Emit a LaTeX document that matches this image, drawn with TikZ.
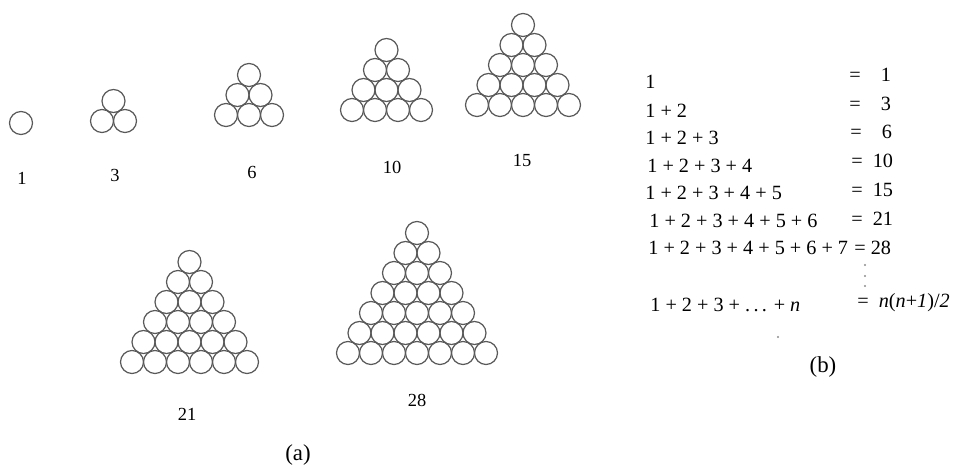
\documentclass[tikz,border=0pt]{standalone}
\usepackage{fontspec}
\setmainfont{Liberation Serif}
\usetikzlibrary{positioning}

% balls stacked in a triangle: x, y of the lower left ball, balls in the bottom row
\newcommand{\stackballs}[3]{%
  \foreach \r in {1,...,#3}{
    \foreach \k in {\r,...,#3}{
      \draw[ball] ({#1+(\r-1)*11.5+(\k-\r)*23},{#2-(\r-1)*20}) circle (0.23cm);
    }}}

\tikzset{
  ball/.style={draw=black!65,line width=0.7pt},
  count/.style={font=\fontsize{10.5}{12}\selectfont},
  sumrow/.style={anchor=west,inner sep=0pt,font=\fontsize{11.5}{14}\selectfont},
  caption/.style={font=\fontsize{13}{15}\selectfont}
}

\begin{document}
\begin{tikzpicture}[x=0.02cm,y=-0.02cm]
\useasboundingbox (0,0) rectangle (955,469);
% (a) triangular numbers
\stackballs{21}{123}{1}
\stackballs{102}{121}{2}
\stackballs{226}{115}{3}
\stackballs{352}{110}{4}
\stackballs{477}{105}{5}
\stackballs{132}{362}{6}
\stackballs{348}{353}{7}
\node[count] (c1) at (22,178) {1};
\node[count] (c3) at (115,175) {3};
\node[count] (c6) at (252,172) {6};
\node[count] (c10) at (392,167) {10};
\node[count] (c15) at (522,161) {15};
\node[count] (c21) at (187,414) {21};
\node[count] (c28) at (417,400) {28};
\node[caption] (capa) at (298,455) {(a)};
% (b) the sums
\node[sumrow] (s1) at (645,82) {1};
\node[sumrow] (s2) at (645,111) {1 + 2};
\node[sumrow] (s3) at (645,138) {1 + 2 + 3};
\node[sumrow] (s4) at (647,166) {1 + 2 + 3 + 4};
\node[sumrow] (s5) at (645,193) {1 + 2 + 3 + 4 + 5};
\node[sumrow] (s6) at (649,221) {1 + 2 + 3 + 4 + 5 + 6};
\node[sumrow] (s7) at (648,248) {1 + 2 + 3 + 4 + 5 + 6 + 7};
\node[sumrow] (sn) at (650,305) {1 + 2 + 3 + .\,.\,. + \textit{n}};
\node[sumrow] (t1) at (849,75) {=\enspace\phantom{0}1};
\node[sumrow] (t2) at (849,104) {=\enspace\phantom{0}3};
\node[sumrow] (t3) at (850,132) {=\enspace\phantom{0}6};
\node[sumrow] (t4) at (851,161) {=\enspace 10};
\node[sumrow] (t5) at (851,190) {=\enspace 15};
\node[sumrow] (t6) at (851,219) {=\enspace 21};
\node[sumrow] (t7) at (854,248) {= 28};
\node[sumrow] (tn) at (857,303) {=\enspace\textit{n}(\textit{n}+\textit{1})/\textit{2}};
% vertical dots and a stray speck
\foreach \y in {265,276,286}
  \fill[black!45] (865,\y) circle (0.6pt);
\fill[black!45] (778,337) circle (0.6pt);
\node[caption] (capb) at (823,367) {(b)};
\end{tikzpicture}
\end{document}
